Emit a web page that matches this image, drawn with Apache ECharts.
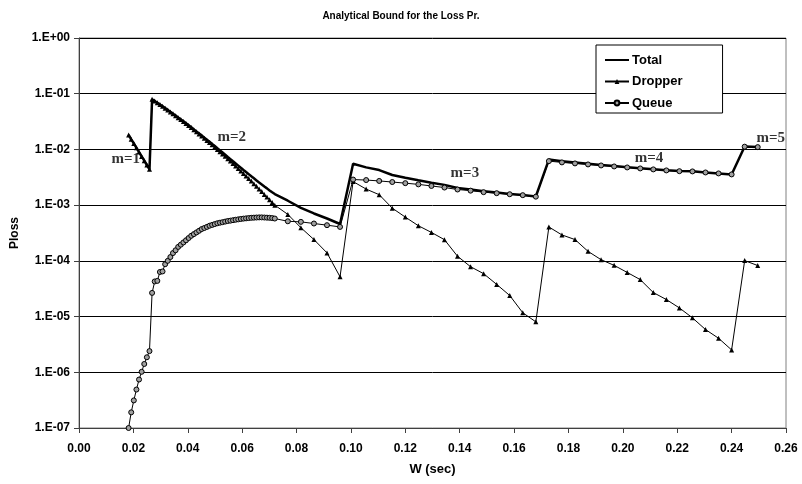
<!DOCTYPE html>
<html><head><meta charset="utf-8">
<script src="https://cdn.jsdelivr.net/npm/echarts@6/dist/echarts.min.js"></script>
<style>html,body{margin:0;padding:0;background:#fff}#c{width:802px;height:484px}</style>
</head><body><div id="c"></div>
<script>
// W (sec) sample points
const W = [0.01824,0.0192,0.02016,0.02112,0.02208,0.02304,0.024,0.02496,0.02592,
0.02688,0.02784,0.0288,0.02976,0.03072,0.03168,0.03264,0.0336,0.03456,0.03552,
0.03648,0.03744,0.0384,0.03936,0.04032,0.04128,0.04224,0.0432,0.04416,0.04512,
0.04608,0.04704,0.048,0.04896,0.04992,0.05088,0.05184,0.0528,0.05376,0.05472,
0.05568,0.05664,0.0576,0.05856,0.05952,0.06048,0.06144,0.0624,0.06336,0.06432,
0.06528,0.06624,0.0672,0.06816,0.06912,0.07008,0.07104,0.072,
0.0768,0.0816,0.0864,0.0912,0.096,
0.1008,0.1056,0.1104,0.1152,0.12,0.1248,0.1296,0.1344,0.1392,0.144,0.1488,0.1536,0.1584,0.1632,0.168,
0.1728,0.1776,0.1824,0.1872,0.192,0.1968,0.2016,0.2064,0.2112,0.216,0.2208,0.2256,0.2304,0.2352,0.24,
0.2448,0.2496];

const total = [1.82e-2,1.52e-2,1.28e-2,1.07e-2,8.95e-3,7.50e-3,6.28e-3,5.25e-3,4.40e-3,
7.94e-2,7.40e-2,6.89e-2,6.41e-2,5.95e-2,5.52e-2,5.12e-2,4.73e-2,4.38e-2,4.06e-2,
3.74e-2,3.46e-2,3.19e-2,2.94e-2,2.71e-2,2.50e-2,2.29e-2,2.10e-2,1.94e-2,1.78e-2,
1.63e-2,1.49e-2,1.37e-2,1.25e-2,1.15e-2,1.05e-2,9.60e-3,8.78e-3,8.03e-3,7.33e-3,
6.70e-3,6.12e-3,5.60e-3,5.12e-3,4.68e-3,4.28e-3,3.92e-3,3.60e-3,3.29e-3,3.03e-3,
2.78e-3,2.55e-3,2.35e-3,2.16e-3,2.00e-3,1.84e-3,1.70e-3,1.58e-3,
1.20e-3,8.95e-4,7.09e-4,5.76e-4,4.59e-4,
5.53e-3,4.76e-3,4.26e-3,3.48e-3,3.09e-3,2.79e-3,2.53e-3,2.31e-3,2.03e-3,1.90e-3,1.77e-3,1.68e-3,1.59e-3,1.52e-3,1.43e-3,
6.58e-3,6.14e-3,5.85e-3,5.53e-3,5.27e-3,5.03e-3,4.81e-3,4.61e-3,4.41e-3,4.22e-3,4.08e-3,4.04e-3,3.87e-3,3.71e-3,3.56e-3,
1.13e-2,1.11e-2];

const dropper = [1.82e-2,1.52e-2,1.28e-2,1.07e-2,8.95e-3,7.50e-3,6.28e-3,5.25e-3,4.40e-3,
7.94e-2,7.40e-2,6.89e-2,6.40e-2,5.94e-2,5.51e-2,5.11e-2,4.72e-2,4.37e-2,4.04e-2,
3.72e-2,3.44e-2,3.17e-2,2.92e-2,2.68e-2,2.47e-2,2.26e-2,2.07e-2,1.90e-2,1.74e-2,
1.59e-2,1.45e-2,1.33e-2,1.21e-2,1.10e-2,1.00e-2,9.12e-3,8.28e-3,7.52e-3,6.81e-3,
6.17e-3,5.58e-3,5.05e-3,4.56e-3,4.11e-3,3.71e-3,3.34e-3,3.01e-3,2.70e-3,2.43e-3,
2.18e-3,1.95e-3,1.75e-3,1.56e-3,1.40e-3,1.25e-3,1.11e-3,1.00e-3,
6.82e-4,3.94e-4,2.41e-4,1.39e-4,5.18e-5,
2.65e-3,1.94e-3,1.54e-3,8.83e-4,6.10e-4,4.27e-4,3.24e-4,2.40e-4,1.21e-4,7.85e-5,5.89e-5,3.78e-5,2.39e-5,1.17e-5,8.04e-6,
4.06e-4,2.92e-4,2.41e-4,1.48e-4,1.05e-4,8.30e-5,6.20e-5,4.61e-5,2.70e-5,2.02e-5,1.43e-5,9.48e-6,5.85e-6,4.08e-6,2.52e-6,
1.01e-4,8.24e-5];

const queue = [1.00e-7,1.91e-7,3.13e-7,4.90e-7,7.41e-7,1.02e-6,1.41e-6,1.86e-6,2.40e-6,
2.66e-5,4.27e-5,4.37e-5,6.31e-5,6.46e-5,8.71e-5,1.00e-4,1.17e-4,1.38e-4,1.55e-4,
1.78e-4,1.95e-4,2.14e-4,2.34e-4,2.57e-4,2.82e-4,3.02e-4,3.24e-4,3.47e-4,3.72e-4,
3.89e-4,4.07e-4,4.27e-4,4.42e-4,4.57e-4,4.73e-4,4.84e-4,4.95e-4,5.07e-4,5.19e-4,
5.27e-4,5.37e-4,5.47e-4,5.56e-4,5.65e-4,5.73e-4,5.79e-4,5.86e-4,5.92e-4,5.96e-4,
6.00e-4,6.03e-4,6.03e-4,6.00e-4,5.96e-4,5.92e-4,5.86e-4,5.75e-4,
5.13e-4,5.01e-4,4.68e-4,4.37e-4,4.07e-4,
2.88e-3,2.82e-3,2.72e-3,2.60e-3,2.48e-3,2.36e-3,2.21e-3,2.07e-3,1.91e-3,1.82e-3,1.71e-3,1.64e-3,1.57e-3,1.51e-3,1.42e-3,
6.17e-3,5.85e-3,5.61e-3,5.38e-3,5.16e-3,4.95e-3,4.75e-3,4.56e-3,4.38e-3,4.20e-3,4.07e-3,4.03e-3,3.86e-3,3.71e-3,3.56e-3,
1.12e-2,1.10e-2];

const seriesNames = ['Total','Dropper','Queue'];
const xTickValues = [0,0.02,0.04,0.06,0.08,0.10,0.12,0.14,0.16,0.18,0.20,0.22,0.24,0.26];
const xTickLabels = ['0.00','0.02','0.04','0.06','0.08','0.10','0.12','0.14','0.16','0.18','0.20','0.22','0.24','0.26'];
const yTickExponents = [-7,-6,-5,-4,-3,-2,-1,0];
const yTickLabels = ['1.E-07','1.E-06','1.E-05','1.E-04','1.E-03','1.E-02','1.E-01','1.E+00'];

// regime annotations (text and data-space anchor)
const regimeText = ['m=1','m=2','m=3','m=4','m=5'];
const regimeW = [0.0172,0.0562,0.1419,0.2096,0.2544];
const regimeP = [6.7e-3,1.66e-2,3.8e-3,7.0e-3,1.6e-2];

const zip = (xs, ys) => xs.map((x, i) => [x, ys[i]]);
const FONT = '"Liberation Sans", Arial, sans-serif';

const chart = echarts.init(document.getElementById('c'), null, {renderer: 'canvas'});
chart.setOption({
  animation: false,
  backgroundColor: '#fff',
  title: {
    text: 'Analytical Bound for the Loss Pr.',
    left: 'center', top: 6,
    textStyle: {fontFamily: FONT, fontSize: 10, fontWeight: 'bold', color: '#000'}
  },
  grid: {left: 79, right: 16, top: 38, bottom: 56, show: true, borderColor: '#808080', borderWidth: 1, backgroundColor: '#fff'},
  legend: {
    orient: 'vertical', left: 596, top: 45,
    padding: [8.5, 40, 3.5, 8], itemGap: 8.5, itemWidth: 24, itemHeight: 6,
    borderColor: '#000', borderWidth: 1, backgroundColor: '#fff', borderRadius: 0,
    data: [
      {name: 'Total', itemStyle: {color: 'rgba(0,0,0,0)', borderColor: 'rgba(0,0,0,0)', borderWidth: 0}},
      {name: 'Dropper'},
      {name: 'Queue'}
    ],
    textStyle: {fontFamily: FONT, fontSize: 13, fontWeight: 'bold', color: '#000', padding: [0, 0, 0, -2]}
  },
  xAxis: {
    type: 'value', min: 0, max: 0.26, interval: 0.02,
    name: 'W (sec)', nameLocation: 'middle', nameGap: 35,
    nameTextStyle: {fontFamily: FONT, fontSize: 13, fontWeight: 'bold', color: '#000'},
    axisLine: {show: true, onZero: false, lineStyle: {color: '#404040', width: 1}},
    axisTick: {show: true, inside: false, length: 5, lineStyle: {color: '#404040'}},
    splitLine: {show: false},
    axisLabel: {
      margin: 15, fontFamily: FONT, fontSize: 12, fontWeight: 'bold', color: '#000',
      formatter: v => { const i = xTickValues.findIndex(t => Math.abs(t - v) < 1e-9); return i >= 0 ? xTickLabels[i] : ''; }
    }
  },
  yAxis: {
    type: 'log', logBase: 10, min: 1e-7, max: 1, interval: 1,
    name: 'Ploss', nameLocation: 'middle', nameGap: 58, nameRotate: 90,
    nameTextStyle: {fontFamily: FONT, fontSize: 12, fontWeight: 'bold', color: '#000'},
    axisLine: {show: true, lineStyle: {color: '#404040', width: 1}},
    axisTick: {show: true, inside: false, length: 5, lineStyle: {color: '#404040'}},
    minorTick: {show: false},
    splitLine: {show: true, lineStyle: {color: '#000', width: 1}},
    axisLabel: {
      margin: 9, fontFamily: FONT, fontSize: 12, fontWeight: 'bold', color: '#000',
      formatter: v => { const e = Math.round(Math.log10(v)); const i = yTickExponents.indexOf(e); return i >= 0 ? yTickLabels[i] : ''; }
    }
  },
  series: [
    {
      name: 'Total', type: 'line', data: zip(W, total), z: 2,
      symbol: 'none', lineStyle: {color: '#000', width: 2.5}, itemStyle: {color: '#000'}
    },
    {
      name: 'Dropper', type: 'line', data: zip(W, dropper), z: 3,
      symbol: 'triangle', symbolSize: 5, showAllSymbol: true,
      lineStyle: {color: '#000', width: 1}, itemStyle: {color: '#000'}
    },
    {
      name: 'Queue', type: 'line', data: zip(W, queue), z: 4,
      symbol: 'circle', symbolSize: 5, showAllSymbol: true,
      lineStyle: {color: '#000', width: 1}, itemStyle: {color: '#a0a0a0', borderColor: '#000', borderWidth: 1}
    },
    {
      name: 'regimes', type: 'scatter', z: 5, silent: true, symbolSize: 0,
      data: regimeText.map((t, i) => ({name: t, value: [regimeW[i], regimeP[i]]})),
      label: {show: true, position: 'inside', formatter: '{b}', fontFamily: '"Liberation Serif", "Times New Roman", serif', fontSize: 15, fontWeight: 'bold', color: '#000'}
    }
  ]
});
</script></body></html>
